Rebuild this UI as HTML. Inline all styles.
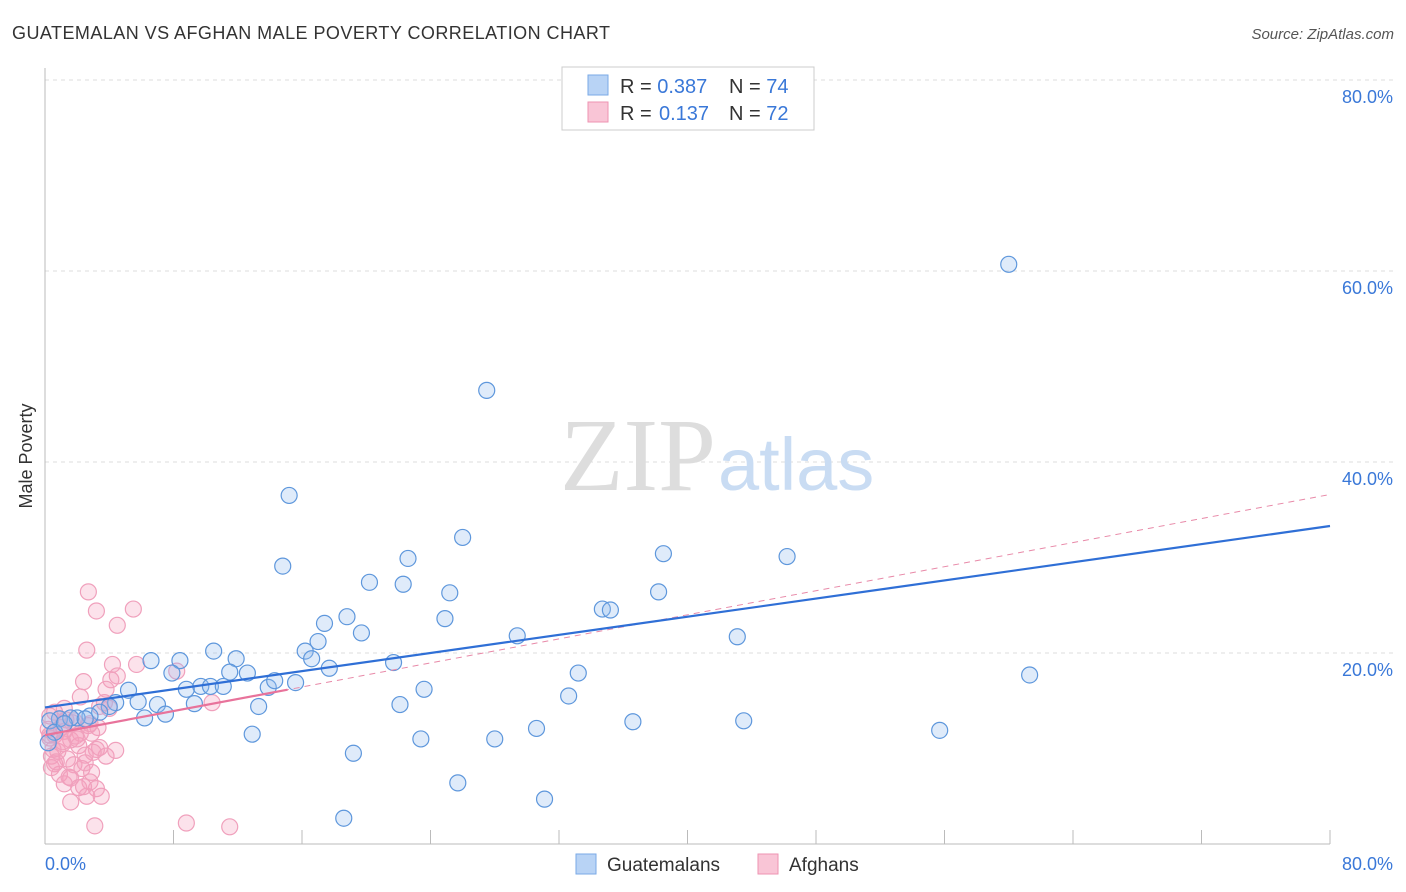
<!DOCTYPE html>
<html><head><meta charset="utf-8"><style>
body{margin:0;background:#fff;font-family:"Liberation Sans",sans-serif;}
svg{display:block}
</style></head><body>
<svg id="c" width="1406" height="892">
<text x="12" y="39" font-size="18" fill="#333" textLength="598">GUATEMALAN VS AFGHAN MALE POVERTY CORRELATION CHART</text>
<text x="1394" y="39" font-size="15" fill="#555" font-style="italic" text-anchor="end">Source: ZipAtlas.com</text>
<text x="32" y="456" font-size="18" fill="#333" transform="rotate(-90 32 456)" text-anchor="middle">Male Poverty</text>
<g id="grid"></g>
<text x="716" y="490" font-size="104" font-family="Liberation Serif,serif" fill="#ddd" text-anchor="end">ZIP</text>
<text x="718" y="490" font-size="74" fill="#c9dcf3">atlas</text>
<g id="marks"></g>
<g>
<rect x="562" y="67" width="252" height="63" fill="#fff" stroke="#ccc"/>
<rect x="588" y="75" width="20" height="20" fill="#b8d3f5" stroke="#7aaae6"/>
<rect x="588" y="102" width="20" height="20" fill="#f9c5d6" stroke="#ee93b2"/>
<text x="620" y="93" font-size="20" fill="#333">R = <tspan fill="#3a78d8">0.387</tspan><tspan x="729">N = </tspan><tspan fill="#3a78d8">74</tspan></text>
<text x="620" y="120" font-size="20" fill="#333">R = <tspan x="659" fill="#3a78d8">0.137</tspan><tspan x="729">N = </tspan><tspan fill="#3a78d8">72</tspan></text>
</g>
<g>
<rect x="576" y="854" width="20" height="20" fill="#b8d3f5" stroke="#7aaae6"/>
<text x="607" y="871" font-size="19" fill="#333">Guatemalans</text>
<rect x="758" y="854" width="20" height="20" fill="#f9c5d6" stroke="#ee93b2"/>
<text x="789" y="871" font-size="19" fill="#333">Afghans</text>
</g>
</svg>
<script>
const yTicks=[20,40,60,80];
const xTickCount=[0,8,16,24,32,40,48,56,64,72,80];
const blueX=[60.0,27.5,15.2,26.0,22.6,38.5,46.2,14.8,20.2,22.3,25.2,34.7,35.2,38.2,18.8,17.4,24.9,19.7,17.0,29.4,43.1,10.5,6.6,8.4,11.9,16.2,16.6,17.7,21.7,7.9,11.5,12.6,33.2,61.3,5.2,8.8,9.7,10.3,11.1,13.9,14.3,15.6,23.6,32.6,5.8,4.4,4.0,7.0,9.3,13.3,22.1,3.4,2.8,2.0,0.9,0.3,6.2,7.5,0.6,36.6,43.5,0.2,12.9,30.6,55.7,23.4,28.0,19.2,25.7,31.1,18.6,1.6,2.5,1.2];
const blueY=[60.7,47.5,36.5,32.1,29.9,30.4,30.1,29.1,27.4,27.2,26.3,24.6,24.5,26.4,23.8,23.1,23.6,22.1,21.2,21.8,21.7,20.2,19.2,19.2,19.4,20.2,19.4,18.4,19.0,17.9,18.0,17.9,17.9,17.7,16.1,16.2,16.5,16.5,16.5,16.4,17.1,16.9,16.2,15.5,14.9,14.8,14.4,14.6,14.7,14.4,14.6,13.8,13.4,13.2,13.1,12.9,13.2,13.6,11.7,12.8,12.9,10.6,11.5,12.1,11.9,11.0,11.0,9.5,6.4,4.7,2.7,13.2,13.1,12.6];
const pinkX=[2.7,3.2,5.5,4.5,2.6,4.2,5.7,4.5,4.1,2.4,3.8,2.2,8.2,10.4,3.7,3.4,1.2,0.6,0.3,0.9,1.7,2.7,3.3,1.2,0.6,2.2,2.9,0.3,1.6,1.1,2.1,3.2,3.8,2.5,0.4,1.4,0.6,1.8,2.3,2.9,0.9,1.6,2.8,1.2,2.1,3.2,3.5,2.6,1.6,8.8,11.5,3.1,0.4,0.8,1.9,1.3,0.2,3.4,0.5,2.5,1.1,2.8,4.0,1.0,2.0,3.0,0.7,1.5,2.4,0.3,1.8,4.4];
const pinkY=[26.4,24.4,24.6,22.9,20.3,18.8,18.8,17.6,17.2,17.0,16.2,15.4,18.1,14.8,14.8,14.4,14.2,13.8,13.4,13.1,12.7,12.4,12.2,11.8,11.4,11.6,11.6,11.1,10.9,10.5,10.3,9.9,9.2,9.3,9.2,8.9,8.4,8.3,7.9,7.5,7.3,6.9,6.5,6.3,5.9,5.8,5.0,5.0,4.4,2.2,1.8,1.9,8.0,9.7,11.3,13.0,12.0,10.1,9.9,8.5,10.7,12.6,14.2,12.2,11.0,9.6,8.6,7.0,6.0,11.4,12.9,9.8];
const blueLine=[14.3,33.3];
const pinkLine=[11.4,36.6];
const pinkSolidEnd=15.1;
const NS='http://www.w3.org/2000/svg';
const X=v=>45+v/80*1285;
const Y=v=>844-v/20*191;
function mk(t,a,p){const e=document.createElementNS(NS,t);for(const k in a)e.setAttribute(k,a[k]);p.appendChild(e);return e;}
const g=document.getElementById('grid'),m=document.getElementById('marks');
yTicks.forEach(t=>{
 const l=mk('line',{x1:45,x2:1394,y1:Y(t),y2:Y(t),stroke:'#ddd','stroke-dasharray':'4,4'},g);
 
 
 const tx=mk('text',{x:1393,y:Y(t)+23,'font-size':18,fill:'#3a78d8','text-anchor':'end'},g);
 tx.textContent=t.toFixed(1)+'%';
 
 
});
mk('line',{x1:45,x2:45,y1:68,y2:844,stroke:'#bbb'},g);
mk('line',{x1:45,x2:1330,y1:844,y2:844,stroke:'#bbb'},g);
xTickCount.forEach(t=>{
 const l=mk('line',{x1:X(t),x2:X(t),y1:830,y2:844,stroke:'#bbb'},g);
 
 
});
[[0,'start',45],[80,'end',1393]].forEach(([v,a,x])=>{
 const tx=mk('text',{x:x,y:870,'font-size':18,fill:'#3a78d8','text-anchor':a},g);
 tx.textContent=v.toFixed(1)+'%';
 
 
});
pinkX.forEach((x,i)=>{
 const c=mk('circle',{cx:X(x),cy:Y(pinkY[i]),r:8,fill:'rgba(244,160,190,0.3)',stroke:'#f0a0bc','stroke-width':1.2},m);
 
 
});
blueX.forEach((x,i)=>{
 const c=mk('circle',{cx:X(x),cy:Y(blueY[i]),r:8,fill:'rgba(150,190,240,0.3)',stroke:'#5e97dc','stroke-width':1.2},m);
 
 
});
const pd=mk('line',{x1:X(0),y1:Y(pinkLine[0]),x2:X(80),y2:Y(pinkLine[1]),stroke:'#e889a8','stroke-width':1,'stroke-dasharray':'6,5'},m);


const pe=pinkLine[0]+(pinkLine[1]-pinkLine[0])*pinkSolidEnd/80;
const ps=mk('line',{x1:X(0),y1:Y(pinkLine[0]),x2:X(pinkSolidEnd),y2:Y(pe),stroke:'#e8739b','stroke-width':2.2},m);


const bl=mk('line',{x1:X(0),y1:Y(blueLine[0]),x2:X(80),y2:Y(blueLine[1]),stroke:'#2f6fd6','stroke-width':2.2},m);


</script>
</body></html>
